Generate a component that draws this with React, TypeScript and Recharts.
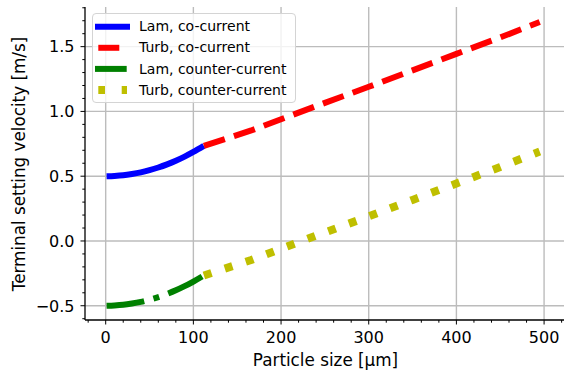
import { LineChart, Line, XAxis, YAxis, CartesianGrid } from "recharts";

// particle sizes [µm] and terminal velocities [m/s]
const lamSizes = [1, 10, 20, 30, 40, 50, 60, 70, 80, 90, 100, 112];
const lamCoVelocity = [0.5, 0.502, 0.507, 0.517, 0.53, 0.547, 0.567, 0.591, 0.619, 0.651, 0.687, 0.734];
const lamCounterVelocity = [-0.5, -0.498, -0.493, -0.483, -0.47, -0.453, -0.433, -0.409, -0.381, -0.349, -0.313, -0.266];

const turbSizes = [112, 166, 200, 250, 300, 350, 400, 450, 495];
const turbCoVelocity = [0.734, 0.853, 0.94, 1.066, 1.19, 1.317, 1.444, 1.571, 1.69];
const turbCounterVelocity = [-0.266, -0.147, -0.06, 0.066, 0.19, 0.317, 0.444, 0.571, 0.69];

const xMajorTicks = [0, 100, 200, 300, 400, 500];
const xAllTicks = [-20, 0, 20, 40, 60, 80, 100, 120, 140, 160, 180, 200, 220, 240, 260, 280, 300, 320, 340, 360, 380, 400, 420, 440, 460, 480, 500, 520];
const yMajorTicks = [-0.5, 0, 0.5, 1, 1.5];
const yAllTicks = [-0.6, -0.5, -0.4, -0.3, -0.2, -0.1, 0, 0.1, 0.2, 0.3, 0.4, 0.5, 0.6, 0.7, 0.8, 0.9, 1, 1.1, 1.2, 1.3, 1.4, 1.5, 1.6, 1.7, 1.8];

const X_DOMAIN = [-23.6, 525];
const Y_DOMAIN = [-0.61, 1.806];

const FONT = "DejaVu Sans, sans-serif";

const lamCo = lamSizes.map((x, i) => ({ x, v: lamCoVelocity[i] }));
const lamCounter = lamSizes.map((x, i) => ({ x, v: lamCounterVelocity[i] }));
const turbCo = turbSizes.map((x, i) => ({ x, v: turbCoVelocity[i] }));
const turbCounter = turbSizes.map((x, i) => ({ x, v: turbCounterVelocity[i] }));

const isMajor = (list: number[], v: number) => list.some((m) => Math.abs(m - v) < 1e-6);

const fmtY = (v: number) => (v < 0 ? "\u2212" + Math.abs(v).toFixed(1) : v.toFixed(1));

const XTick = (props: any) => {
  const { x, y, payload } = props;
  const major = isMajor(xMajorTicks, payload.value);
  return (
    <g>
      <line x1={x} x2={x} y1={y} y2={y + (major ? 4.5 : 2.7)} stroke="#000" strokeWidth={1} />
      {major && (
        <text x={x} y={y + 23.4} textAnchor="middle" fontSize={16} fontFamily={FONT} fill="#000">
          {payload.value}
        </text>
      )}
    </g>
  );
};

const YTick = (props: any) => {
  const { x, y, payload } = props;
  const major = isMajor(yMajorTicks, payload.value);
  return (
    <g>
      <line x1={x} x2={x - (major ? 4.5 : 2.7)} y1={y} y2={y} stroke="#000" strokeWidth={1} />
      {major && (
        <text x={x - 10.5} y={y + 5.8} textAnchor="end" fontSize={16} fontFamily={FONT} fill="#000">
          {fmtY(payload.value)}
        </text>
      )}
    </g>
  );
};

const legendRows = [
  { label: "Lam, co-current", color: "#0000ff", width: 6, segs: [[2, 37]] },
  { label: "Turb, co-current", color: "#ff0000", width: 6, segs: [[5.3, 26.3]] },
  { label: "Lam, counter-current", color: "#008000", width: 6, segs: [[2, 33.7]] },
  { label: "Turb, counter-current", color: "#bfbf00", width: 8, segs: [[5.3, 12], [28.7, 34]] },
];

export default function App() {
  return (
    <div
      style={{
        position: "absolute",
        left: 0,
        top: 0,
        width: 564,
        height: 374,
        overflow: "hidden",
        background: "#fff",
      }}
    >
      <LineChart width={580} height={374} margin={{ top: 7, right: 14, bottom: 0, left: 0 }}>
        <CartesianGrid
          verticalValues={xMajorTicks}
          horizontalValues={yMajorTicks}
          stroke="#bcbcbc"
          strokeWidth={1.4}
        />
        <XAxis
          dataKey="x"
          type="number"
          domain={X_DOMAIN}
          allowDataOverflow
          ticks={xAllTicks}
          interval={0}
          height={54}
          tickSize={0}
          tickMargin={0}
          tickLine={false}
          tick={<XTick />}
          axisLine={{ stroke: "#000", strokeWidth: 1.3 }}
        />
        <XAxis
          xAxisId="top"
          orientation="top"
          dataKey="x"
          type="number"
          domain={X_DOMAIN}
          allowDataOverflow
          height={0}
          tick={false}
          tickLine={false}
          axisLine={{ stroke: "#000", strokeWidth: 1.3 }}
        />
        <YAxis
          type="number"
          domain={Y_DOMAIN}
          allowDataOverflow
          ticks={yAllTicks}
          interval={0}
          width={85}
          tickSize={0}
          tickMargin={0}
          tickLine={false}
          tick={<YTick />}
          axisLine={{ stroke: "#000", strokeWidth: 1.3 }}
        />
        <Line
          data={lamCo}
          dataKey="v"
          type="monotone"
          stroke="#0000ff"
          strokeWidth={6}
          dot={false}
          activeDot={false}
          isAnimationActive={false}
        />
        <Line
          data={turbCo}
          dataKey="v"
          type="linear"
          stroke="#ff0000"
          strokeWidth={6}
          strokeDasharray="22 9.6"
          dot={false}
          activeDot={false}
          isAnimationActive={false}
        />
        <Line
          data={lamCounter}
          dataKey="v"
          type="monotone"
          stroke="#008000"
          strokeWidth={6}
          strokeDasharray="38 9.6 6 9.6"
          dot={false}
          activeDot={false}
          isAnimationActive={false}
        />
        <Line
          data={turbCounter}
          dataKey="v"
          type="linear"
          stroke="#bfbf00"
          strokeWidth={8}
          strokeDasharray="8 14"
          dot={false}
          activeDot={false}
          isAnimationActive={false}
        />
      </LineChart>

      <svg
        width={564}
        height={374}
        style={{ position: "absolute", left: 0, top: 0, pointerEvents: "none" }}
      >
        <text
          x={325.5}
          y={365.5}
          textAnchor="middle"
          fontSize={16.8}
          fontFamily={FONT}
          fill="#000"
        >
          Particle size [µm]
        </text>
        <text
          transform="translate(25,164) rotate(-90)"
          textAnchor="middle"
          fontSize={16.8}
          fontFamily={FONT}
          fill="#000"
        >
          Terminal setting velocity [m/s]
        </text>
      </svg>

      <div
        style={{
          position: "absolute",
          left: 92,
          top: 13,
          width: 204,
          height: 90,
          boxSizing: "border-box",
          border: "1px solid #d4d4d4",
          borderRadius: 4,
          background: "rgba(255,255,255,0.8)",
        }}
      >
        <svg width={202} height={88} style={{ display: "block" }}>
          {legendRows.map((row, i) => {
            const cy = 12.7 + i * 21.1;
            return (
              <g key={row.label}>
                {row.segs.map(([a, b], j) => (
                  <line key={j} x1={a} x2={b} y1={cy} y2={cy} stroke={row.color} strokeWidth={row.width} />
                ))}
                <text x={46} y={cy + 4.6} fontSize={14} fontFamily={FONT} fill="#000">
                  {row.label}
                </text>
              </g>
            );
          })}
        </svg>
      </div>
    </div>
  );
}
